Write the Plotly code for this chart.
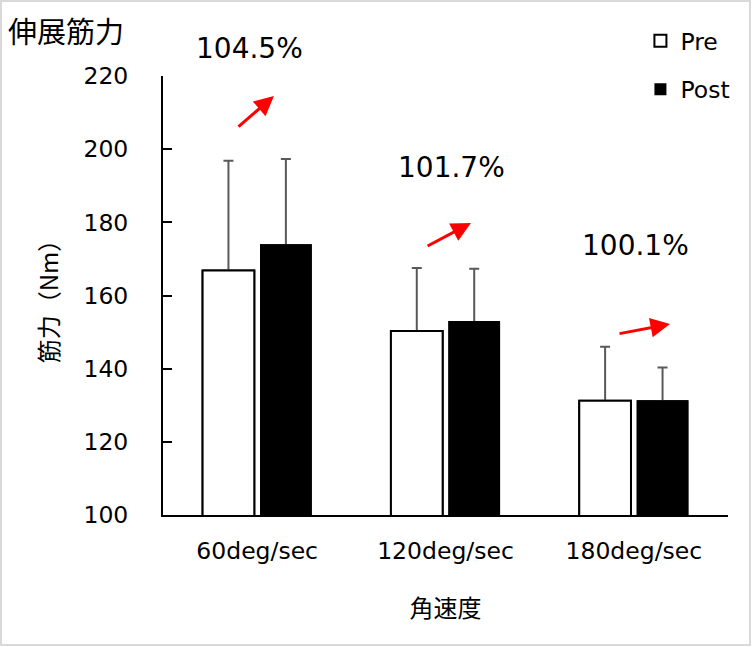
import plotly.graph_objects as go

speeds = ["60deg/sec", "120deg/sec", "180deg/sec"]
pre = [166.8, 150.3, 131.2]
post = [174.0, 153.0, 131.4]
pre_sd = [30.0, 17.2, 14.8]
post_sd = [23.3, 14.3, 8.9]

# change labels (text, x index, y value) and red arrows (tail -> head)
pct_text = ["104.5%", "101.7%", "100.1%"]
pct_x = [-0.04, 1.03, 2.01]
pct_y = [227.4, 195.1, 173.8]
arrow_tail = [(-0.107, 205.8), (0.897, 173.3), (1.916, 149.5)]
arrow_head = [(0.089, 214.5), (1.135, 179.8), (2.192, 152.2)]

y_min, y_max = 100, 220
font_main = "DejaVu Sans, Noto Sans CJK JP"

pre_style = dict(color="white", line=dict(color="black", width=2))
post_style = dict(color="black", line=dict(color="black", width=0))


def err(sd):
    return dict(type="data", array=sd, color="#595959", thickness=2, width=5)


# bars with error bars, then the same bars again on top so only the upper half shows
traces = [
    go.Bar(x=speeds, y=pre, name="Pre", offsetgroup="pre", marker=pre_style,
           error_y=err(pre_sd), legendgroup="pre"),
    go.Bar(x=speeds, y=post, name="Post", offsetgroup="post", marker=post_style,
           error_y=err(post_sd), legendgroup="post"),
    go.Bar(x=speeds, y=pre, offsetgroup="pre", marker=pre_style, showlegend=False),
    go.Bar(x=speeds, y=post, offsetgroup="post", marker=post_style, showlegend=False),
]

annotations = []
for txt, x, y in zip(pct_text, pct_x, pct_y):
    annotations.append(dict(
        x=x, y=(y - y_min) / (y_max - y_min), xref="x", yref="paper",
        xanchor="center", yanchor="middle",
        text=txt, showarrow=False,
        font=dict(family=font_main, size=28, color="black"),
    ))
for (tx, ty), (hx, hy) in zip(arrow_tail, arrow_head):
    annotations.append(dict(
        x=hx, y=hy, ax=tx, ay=ty, xref="x", yref="y", axref="x", ayref="y",
        text="", showarrow=True, arrowhead=2, arrowsize=1.3, arrowwidth=3,
        arrowcolor="red", standoff=0, startstandoff=0,
    ))

layout = go.Layout(
    width=752,
    height=647,
    paper_bgcolor="white",
    plot_bgcolor="white",
    font=dict(family=font_main, size=23, color="black"),
    title=dict(
        text="伸展筋力",
        x=8 / 752, xanchor="left", xref="container",
        y=1 - 33 / 647, yanchor="middle", yref="container",
        font=dict(family="Noto Sans CJK JP", size=29, color="black"),
    ),
    margin=dict(l=163, r=24, t=76, b=132),
    barmode="group",
    bargap=0.39,
    bargroupgap=0.1,
    xaxis=dict(
        title=dict(text="角速度", standoff=36,
                   font=dict(family="Noto Sans CJK JP", size=24)),
        showline=True, linecolor="black", linewidth=2,
        ticks="", showgrid=False, ticklabelstandoff=14,
        tickfont=dict(size=23.5),
    ),
    yaxis=dict(
        title=dict(text="筋力（Nm）", standoff=18,
                   font=dict(family="Noto Sans CJK JP", size=24)),
        range=[y_min, y_max], dtick=20,
        showline=True, linecolor="black", linewidth=2,
        ticks="inside", ticklen=9, tickwidth=2, tickcolor="black",
        showgrid=False, zeroline=False, ticklabelstandoff=28,
        tickfont=dict(size=23.5),
    ),
    legend=dict(
        x=0.845, y=1.13, xanchor="left", yanchor="top",
        font=dict(size=23.5), tracegroupgap=15, bgcolor="rgba(0,0,0,0)",
    ),
    showlegend=True,
    annotations=annotations,
    shapes=[dict(
        type="rect", xref="paper", yref="paper",
        x0=-162 / 565, x1=587 / 565, y0=-130 / 439, y1=514 / 439,
        line=dict(color="#d9d9d9", width=2), fillcolor="rgba(0,0,0,0)",
        layer="below",
    )],
)

fig = go.Figure(data=traces, layout=layout)
fig.write_html("out.html", config={"displayModeBar": False},
               post_script="document.body.style.margin='0';")
